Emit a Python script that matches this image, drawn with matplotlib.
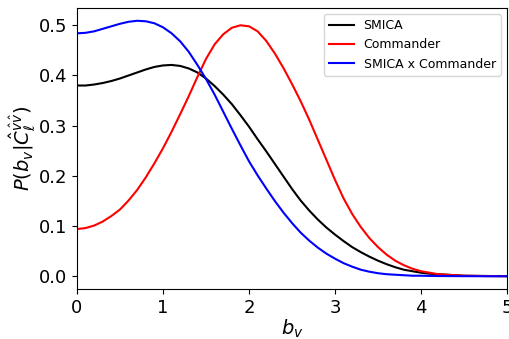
import matplotlib
matplotlib.use("Agg")
import matplotlib.pyplot as plt

b_v = [0.0, 0.1, 0.2, 0.3, 0.4, 0.5, 0.6, 0.7, 0.8, 0.9,
       1.0, 1.1, 1.2, 1.3, 1.4, 1.5, 1.6, 1.7, 1.8, 1.9,
       2.0, 2.1, 2.2, 2.3, 2.4, 2.5, 2.6, 2.7, 2.8, 2.9,
       3.0, 3.1, 3.2, 3.3, 3.4, 3.5, 3.6, 3.7, 3.8, 3.9,
       4.0, 4.1, 4.2, 4.3, 4.4, 4.5, 4.75, 5.0]

smica = [0.380, 0.380, 0.382, 0.385, 0.389, 0.394, 0.400, 0.406, 0.412, 0.417,
         0.420, 0.421, 0.419, 0.414, 0.406, 0.394, 0.379, 0.362, 0.343, 0.321,
         0.298, 0.273, 0.249, 0.224, 0.199, 0.174, 0.151, 0.131, 0.113, 0.097,
         0.083, 0.070, 0.058, 0.048, 0.039, 0.031, 0.024, 0.018, 0.013, 0.010,
         0.007, 0.005, 0.004, 0.003, 0.002, 0.001, 0.0005, 0.0002]

commander = [0.094, 0.096, 0.101, 0.109, 0.120, 0.133, 0.151, 0.172, 0.197, 0.225,
             0.255, 0.288, 0.323, 0.359, 0.397, 0.433, 0.462, 0.482, 0.495, 0.500,
             0.498, 0.488, 0.469, 0.444, 0.415, 0.383, 0.349, 0.312, 0.272, 0.232,
             0.192, 0.155, 0.124, 0.098, 0.076, 0.058, 0.043, 0.031, 0.022, 0.015,
             0.010, 0.007, 0.004, 0.003, 0.002, 0.001, 0.0003, 0.0001]

cross = [0.484, 0.485, 0.488, 0.493, 0.498, 0.503, 0.507, 0.509, 0.508, 0.504,
         0.496, 0.484, 0.468, 0.447, 0.421, 0.393, 0.362, 0.328, 0.294, 0.261,
         0.229, 0.201, 0.175, 0.150, 0.127, 0.106, 0.087, 0.071, 0.057, 0.045,
         0.035, 0.026, 0.019, 0.013, 0.009, 0.006, 0.004, 0.003, 0.002, 0.001,
         0.001, 0.0006, 0.0004, 0.0003, 0.0002, 0.0001, 0.0, 0.0]

fig = plt.figure(figsize=(5.1, 3.39), dpi=100)
ax = fig.add_axes([77/510, 1 - 289/339, 430/510, 281/339])
ax.plot(b_v, smica, color="black", lw=1.5, label="SMICA")
ax.plot(b_v, commander, color="red", lw=1.5, label="Commander")
ax.plot(b_v, cross, color="blue", lw=1.5, label="SMICA x Commander")
ax.set_xlim(0, 5)
ax.set_xticks([0, 1, 2, 3, 4, 5])
ax.set_yticks([0.0, 0.1, 0.2, 0.3, 0.4, 0.5])
ax.tick_params(labelsize=13)
ax.set_xlabel(r"$b_v$", fontsize=14, labelpad=1)
ax.set_ylabel(r"$P(b_v|\hat{C}_\ell^{\hat{v}\hat{v}})$", fontsize=14, labelpad=0.5)
ax.legend(loc="upper right", fontsize=9)
fig.savefig("out.png", dpi=100)
